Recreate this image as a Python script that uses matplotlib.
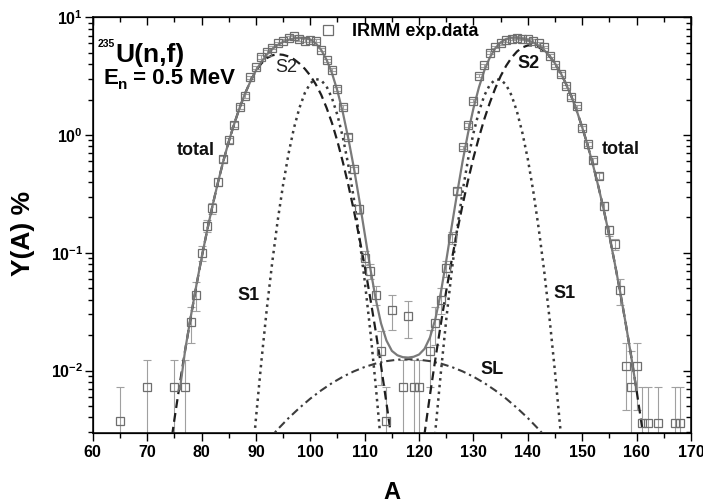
import numpy as np
import matplotlib
matplotlib.use("Agg")
import matplotlib.pyplot as plt
from matplotlib.ticker import MultipleLocator, LogLocator, NullFormatter, FuncFormatter

plt.rcParams['font.family'] = ['Liberation Sans', 'DejaVu Sans']
plt.rcParams['font.weight'] = 'bold'
plt.rcParams['mathtext.fontset'] = 'custom'
plt.rcParams['mathtext.rm'] = 'Liberation Sans:bold'
plt.rcParams['mathtext.bf'] = 'Liberation Sans:bold'
plt.rcParams['mathtext.it'] = 'Liberation Sans:bold'

# ---- IRMM experimental pre-neutron mass yields ----
exp_A = [65, 70, 75, 77,
         78, 79, 80, 81, 82, 83, 84, 85, 86, 87, 88, 89, 90, 91, 92, 93,
         94, 95, 96, 97, 98, 99, 100, 101, 102, 103, 104, 105, 106, 107, 108,
         109, 110, 111, 112, 113, 114, 115,
         117, 118, 119, 120,
         122, 123, 124, 125, 126, 127, 128, 129, 130, 131, 132, 133, 134, 135,
         136, 137, 138, 139, 140, 141, 142, 143, 144, 145, 146, 147, 148, 149,
         150, 151, 152, 153, 154, 155, 156, 157, 158, 159, 160, 161, 162,
         164, 167, 168]
exp_Y = [0.0037, 0.0073, 0.0073, 0.0073,
         0.026, 0.044, 0.100, 0.17, 0.24, 0.40, 0.63, 0.90, 1.22, 1.72, 2.15, 3.1, 3.75, 4.6, 5.1, 5.5,
         6.0, 6.3, 6.7, 6.9, 6.5, 6.3, 6.4, 6.3, 5.3, 4.3, 3.6, 2.45, 1.72, 0.97, 0.51,
         0.235, 0.091, 0.070, 0.044, 0.0146, 0.0037, 0.033,
         0.0073, 0.029, 0.0073, 0.0073,
         0.0146, 0.0254, 0.040, 0.074, 0.134, 0.336, 0.785, 1.22, 1.96, 3.2, 3.9, 5.0, 5.6, 6.0,
         6.4, 6.6, 6.7, 6.6, 6.5, 6.3, 6.0, 5.6, 4.7, 3.9, 3.3, 2.6, 2.1, 1.75,
         1.15, 0.84, 0.61, 0.45, 0.25, 0.155, 0.118, 0.048, 0.0109, 0.0073, 0.0109, 0.0036, 0.0036,
         0.0036, 0.0036, 0.0036]
exp_err = [0.0036, 0.0051, 0.0051, 0.0051,
           0.009, 0.012, 0.015, 0.02, 0.025, 0.03, 0.04, 0.05, 0.06, 0.07, 0.08, 0.10, 0.12, 0.14, 0.15, 0.16,
           0.17, 0.18, 0.19, 0.20, 0.19, 0.18, 0.18, 0.18, 0.16, 0.14, 0.12, 0.09, 0.07, 0.05, 0.03,
           0.02, 0.012, 0.010, 0.008, 0.007, 0.0036, 0.011,
           0.0051, 0.010, 0.0051, 0.0051,
           0.0073, 0.009, 0.010, 0.012, 0.015, 0.02, 0.03, 0.05, 0.07, 0.10, 0.12, 0.15, 0.16, 0.17,
           0.18, 0.19, 0.19, 0.19, 0.18, 0.18, 0.17, 0.16, 0.14, 0.12, 0.10, 0.08, 0.07, 0.06,
           0.05, 0.04, 0.03, 0.025, 0.02, 0.015, 0.012, 0.012, 0.0063, 0.0073, 0.0063, 0.0036, 0.0036,
           0.0036, 0.0036, 0.0036]

# ---- multi-modal random neck-rupture model ----
total_A = list(range(76, 161))
total_Y = [0.0068, 0.0150, 0.0283, 0.0514, 0.0904, 0.152, 0.249, 0.392, 0.599, 0.879,
           1.24, 1.70, 2.25, 2.86, 3.53, 4.18, 4.82, 5.37, 5.82, 6.17,
           6.43, 6.62, 6.71, 6.69, 6.48, 6.02, 5.28, 4.35, 3.34, 2.36,
           1.54, 0.93, 0.53, 0.283, 0.146, 0.0754, 0.0411, 0.0252, 0.0180, 0.0147,
           0.0135, 0.0130, 0.0129, 0.0131, 0.0137, 0.0153, 0.0191, 0.0275, 0.0460, 0.0861,
           0.168, 0.322, 0.598, 1.04, 1.69, 2.54, 3.54, 4.55, 5.45, 6.13,
           6.54, 6.71, 6.70, 6.59, 6.39, 6.10, 5.73, 5.26, 4.69, 4.05,
           3.39, 2.73, 2.13, 1.60, 1.16, 0.816, 0.551, 0.360, 0.226, 0.138,
           0.0806, 0.0456, 0.0249, 0.0132, 0.0067]

s1_light_A = list(range(89, 115))
s1_light_Y = [0.00114, 0.0039, 0.0119, 0.0333, 0.0829, 0.187, 0.379, 0.694, 1.15, 1.70,
              2.28, 2.75, 2.99, 2.92, 2.58, 2.05, 1.47, 0.95, 0.553, 0.29,
              0.137, 0.058, 0.0224, 0.0077, 0.0024, 0.00067]
s1_heavy_A = list(range(122, 148))
s1_heavy_Y = [0.00088, 0.0031, 0.0096, 0.0273, 0.070, 0.160, 0.332, 0.621, 1.04, 1.58,
              2.17, 2.67, 2.96, 2.96, 2.67, 2.17, 1.58, 1.04, 0.621, 0.332,
              0.160, 0.070, 0.0273, 0.0096, 0.0031, 0.00088]

s2_light_A = list(range(72, 117))
s2_light_Y = [0.00037, 0.00083, 0.0018, 0.0038, 0.0077, 0.015, 0.028, 0.051, 0.090, 0.152,
              0.249, 0.392, 0.598, 0.877, 1.24, 1.70, 2.25, 2.86, 3.52, 4.05,
              4.50, 4.75, 4.85, 4.80, 4.65, 4.40, 4.05, 3.65, 3.20, 2.70,
              2.20, 1.70, 1.26, 0.880, 0.586, 0.375, 0.230, 0.136, 0.0771, 0.0419,
              0.0219, 0.0110, 0.0053, 0.0025, 0.0011]
s2_heavy_A = list(range(119, 163))
s2_heavy_Y = [0.00056, 0.0013, 0.0029, 0.0062, 0.0126, 0.0249, 0.0477, 0.087, 0.152, 0.256,
              0.412, 0.642, 0.954, 1.37, 1.88, 2.49, 3.17, 3.87, 4.54, 5.12,
              5.55, 5.77, 5.77, 5.57, 5.19, 4.66, 4.04, 3.39, 2.73, 2.13,
              1.60, 1.16, 0.816, 0.551, 0.360, 0.226, 0.138, 0.0806, 0.0456, 0.0249,
              0.0132, 0.0067, 0.0033, 0.0016]

sl_A = list(range(92, 145, 2))
sl_Y = [0.0025, 0.00317, 0.00395, 0.00482, 0.00578, 0.00679, 0.00784, 0.00887, 0.00985,
        0.01073, 0.01147, 0.01203, 0.01238, 0.0125, 0.01238, 0.01203, 0.01147, 0.01073,
        0.00985, 0.00887, 0.00784, 0.00679, 0.00578, 0.00482, 0.00395, 0.00317, 0.0025]

YMIN, YMAX = 2.97e-3, 10.0

fig = plt.figure(figsize=(7.03, 5.04), dpi=100)
ax = fig.add_axes([0.1319, 0.1415, 0.8511, 0.8242])
ax.set_yscale('log')
ax.set_xlim(60, 170)
ax.set_ylim(YMIN, YMAX)

# error bars (lower bound kept positive for the log axis)
y_arr = np.array(exp_Y)
e_arr = np.array(exp_err)
lo = np.minimum(e_arr, y_arr - 1e-4)
ax.errorbar(exp_A, exp_Y, yerr=[lo, e_arr], fmt='none', ecolor='#a0a0a0',
            elinewidth=0.8, capsize=3.2, capthick=0.8, zorder=2)

# model components
ax.plot(sl_A, sl_Y, color='#3c3c3c', lw=1.5, dashes=(3.9, 1.9, 1.1, 1.9), zorder=3)
for xa, ya in ((s1_light_A, s1_light_Y), (s1_heavy_A, s1_heavy_Y)):
    ax.plot(xa, ya, color='#3a3a3a', lw=1.8, dashes=(1.0, 1.7), zorder=3)
for xa, ya in ((s2_light_A, s2_light_Y), (s2_heavy_A, s2_heavy_Y)):
    ax.plot(xa, ya, color='#1e1e1e', lw=1.6, dashes=(4.0, 2.3), zorder=3)
ax.plot(total_A, total_Y, color='#7a7a7a', lw=1.6, zorder=4, solid_capstyle='butt')

ax.plot(exp_A, exp_Y, ls='none', marker='s', ms=6, mfc='none', mec='#6e6e6e',
        mew=0.9, zorder=5, label='IRMM exp.data')

leg = ax.legend(loc='center left', bbox_to_anchor=(0.378, 0.9646), frameon=False,
                handlelength=1.0, handletextpad=0.85, borderpad=0, borderaxespad=0,
                prop={'size': 13, 'weight': 'bold'}, markerscale=1.25)

# curve labels
lab = dict(fontsize=13, fontweight='bold', color='#111111', va='center', ha='left', zorder=6)
ax.text(75.5, 0.743, 'total', **lab)
ax.text(153.6, 0.757, 'total', **lab)
ax.text(93.5, 3.78, 'S2', fontsize=13, fontweight='normal', color='#222222', va='center', ha='left', zorder=6)
ax.text(138.0, 4.08, 'S2', **lab)
ax.text(86.55, 0.0433, 'S1', **lab)
ax.text(144.7, 0.045, 'S1', **lab)
ax.text(131.2, 0.01016, 'SL', **lab)

# reaction and energy header
ax.text(64.1, 4.15, 'U(n,f)', fontsize=19, fontweight='bold', ha='left', va='baseline')
ax.text(64.0, 5.6, '235', fontsize=7.5, fontweight='bold', ha='right', va='baseline')
e_txt = ax.text(61.9, 2.73, 'E', fontsize=16, fontweight='bold', ha='left', va='baseline')
n_txt = ax.annotate('n', xy=(1.0, 0.18), xycoords=e_txt, fontsize=11, fontweight='bold',
                    ha='left', va='center')
ax.annotate(' = 0.5 MeV', xy=(1.0, 2.73), xycoords=(n_txt, 'data'), fontsize=16,
            fontweight='bold', ha='left', va='baseline')

# axes, ticks
ax.xaxis.set_major_locator(MultipleLocator(10))
ax.xaxis.set_minor_locator(MultipleLocator(5))
ax.yaxis.set_major_locator(LogLocator(base=10, numticks=10))
ax.yaxis.set_minor_locator(LogLocator(base=10, subs=np.arange(2, 10), numticks=20))
ax.yaxis.set_minor_formatter(NullFormatter())
ax.yaxis.set_major_formatter(FuncFormatter(lambda v, p: r'$\mathbf{10^{%d}}$' % int(round(np.log10(v)))))
ax.tick_params(which='major', direction='out', length=6, width=1.0, labelsize=11.5, pad=3)
ax.tick_params(axis='y', which='major', pad=1)
ax.tick_params(which='minor', direction='out', length=3.5, width=1.0)
for s in ax.spines.values():
    s.set_linewidth(1.1)

ax_t = ax.twiny()
ax_t.set_xlim(60, 170)
ax_t.xaxis.set_major_locator(MultipleLocator(10))
ax_t.xaxis.set_minor_locator(MultipleLocator(5))
ax_t.tick_params(which='major', direction='in', length=6, width=1.0, labeltop=False)
ax_t.tick_params(which='minor', direction='in', length=3.5, width=1.0)

ax_r = ax.twinx()
ax_r.set_yscale('log')
ax_r.set_ylim(YMIN, YMAX)
ax_r.yaxis.set_major_locator(LogLocator(base=10, numticks=10))
ax_r.yaxis.set_minor_locator(LogLocator(base=10, subs=np.arange(2, 10), numticks=20))
ax_r.tick_params(which='major', direction='in', length=6, width=1.0, labelright=False)
ax_r.tick_params(which='minor', direction='in', length=3.5, width=1.0, labelright=False)
ax_r.yaxis.set_minor_formatter(NullFormatter())

ax.set_xlabel('A', fontsize=17, fontweight='bold', va='baseline')
ax.xaxis.set_label_coords(0.5, -0.1592)
ax.set_ylabel('Y(A) %', fontsize=19, fontweight='bold')
ax.yaxis.set_label_coords(-0.097, 0.48)

fig.savefig('out.png', dpi=100)
